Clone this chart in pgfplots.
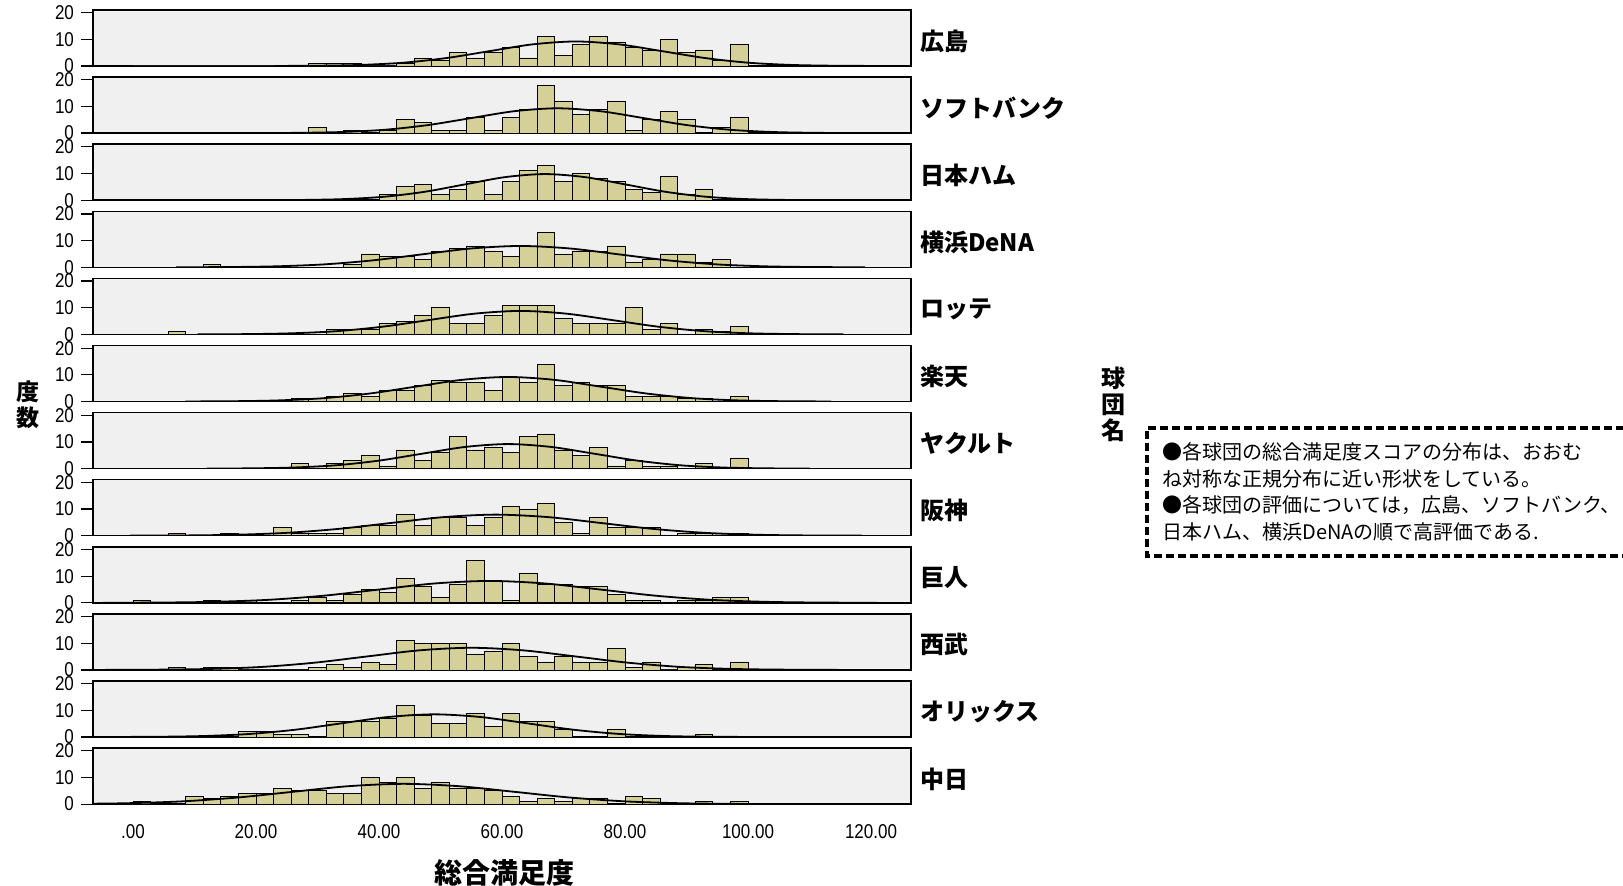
\documentclass[border=0pt]{standalone}
\usepackage{fontspec}
\setmainfont{Liberation Sans}
\newfontfamily\jp{Noto Sans CJK JP}
\newfontfamily\tickf[FakeStretch=0.85]{Liberation Sans}
\usepackage{pgfplots}
\pgfplotsset{compat=1.18}
\usepackage{pgfplotstable}
\definecolor{barc}{RGB}{213,207,152}
\definecolor{bgc}{RGB}{240,240,240}

% histogram counts, bins of width 100/35 starting at 0
\pgfplotstableread{
x t1 t2 t3 t4 t5 t6 t7 t8 t9 t10 t11 t12
0.000 0 0 0 0 0 0 0 0 1 0 0 1
2.857 0 0 0 0 0 0 0 0 0 0 0 0
5.714 0 0 0 0 1 0 0 1 0 1 0 0
8.571 0 0 0 0 0 0 0 0 0 0 0 3
11.429 0 0 0 1 0 0 0 0 1 1 0 2
14.286 0 0 0 0 0 0 0 1 0 1 0 3
17.143 0 0 0 0 0 0 0 0 1 0 2 4
20.000 0 0 0 0 0 0 0 0 0 0 2 4
22.857 0 0 0 0 0 0 0 3 0 0 1 6
25.714 0 0 0 0 0 1 2 1 1 0 1 5
28.571 1 2 0 0 0 1 0 1 2 1 0 5
31.429 1 0 0 0 2 2 2 1 1 2 6 4
34.286 1 1 0 1 2 3 3 3 3 1 6 4
37.143 0 0 0 5 2 2 5 4 5 3 6 10
40.000 0 1 2 4 4 4 1 4 4 2 7 8
42.857 1 5 5 4 5 4 7 8 9 11 12 10
45.714 3 4 6 3 7 6 3 4 6 10 8 6
48.571 2 1 2 6 10 8 6 7 2 10 5 8
51.429 5 1 4 7 4 7 12 7 7 10 5 6
54.286 3 6 7 8 4 7 7 4 16 6 9 6
57.143 5 1 2 6 7 4 8 7 8 7 4 5
60.000 7 6 7 4 11 9 6 11 1 10 9 3
62.857 3 9 11 8 11 7 12 10 11 5 6 1
65.714 11 18 13 13 11 14 13 12 7 3 6 2
68.571 4 12 7 5 6 6 7 5 7 5 3 1
71.429 8 7 10 6 4 7 5 1 6 3 0 2
74.286 11 9 8 6 4 6 8 7 6 3 0 2
77.143 9 12 7 8 4 6 1 3 3 8 3 0
80.000 7 1 4 2 10 2 3 3 1 1 0 3
82.857 6 5 3 3 2 2 1 3 1 3 0 2
85.714 10 8 9 5 4 2 1 0 0 0 0 0
88.571 5 5 2 5 0 1 0 1 1 1 0 0
91.429 6 0 4 2 2 1 2 1 1 2 1 1
94.286 2 2 0 3 1 0 0 1 2 0 0 0
97.143 8 6 0 0 3 2 4 1 2 3 0 1
100.000 0 0 0 0 0 0 0 0 0 0 0 0
}\hist

\pgfplotsset{
  panel/.style={
    scale only axis, width=409pt, height=28pt,
    xmin=-6.5, xmax=126.5, ymin=0, ymax=21,
    axis background/.style={fill=bgc},
    ytick={0,10,20}, yticklabels={0,10,20},
    ytick pos=left, xtick=\empty,
    tick align=outside, major tick length=6pt,
    tick style={black, line width=0.6pt},
    axis line style={black, line width=0.7pt},
    yticklabel style={font=\tickf\fontsize{10pt}{10pt}\selectfont},
    anchor=south west,
  },
  bars/.style={ybar interval, fill=barc, draw=black, line width=0.4pt},
  curve/.style={black, line width=0.9pt, smooth, no marks},
}
\tikzset{lab/.style={anchor=west, xshift=1pt, yshift=-1.5pt, font=\jp\bfseries\fontsize{12pt}{12pt}\selectfont}}

\begin{document}
\begin{tikzpicture}
\path[use as bounding box] (0,0) rectangle (811.5pt,442.5pt);

\begin{axis}[panel, at={(46.5pt,409.5pt)}, name=p1]
\addplot[bars] table[x=x,y=t1]{\hist};
\addplot[curve] coordinates {(23,0.02)(30,0.10)(37,0.40)(44,1.24)(51,2.99)(58,5.58)(65,8.12)(72,9.2)(79,8.12)(86,5.58)(93,2.99)(100,1.24)(107,0.40)(114,0.10)(121,0.02)};
\end{axis}
\node[lab] at (p1.east) {広島};

\begin{axis}[panel, at={(46.5pt,375.95pt)}, name=p2]
\addplot[bars] table[x=x,y=t2]{\hist};
\addplot[curve] coordinates {(20,0.02)(27,0.10)(34,0.41)(41,1.26)(48,3.02)(55,5.64)(62,8.21)(69,9.3)(76,8.21)(83,5.64)(90,3.02)(97,1.26)(104,0.41)(111,0.10)(118,0.02)};
\end{axis}
\node[lab] at (p2.east) {ソフトバンク};

\begin{axis}[panel, at={(46.5pt,342.4pt)}, name=p3]
\addplot[bars] table[x=x,y=t3]{\hist};
\addplot[curve] coordinates {(21.5,0.02)(28,0.11)(34.5,0.43)(41,1.33)(47.5,3.18)(54,5.94)(60.5,8.65)(67,9.8)(73.5,8.65)(80,5.94)(86.5,3.18)(93,1.33)(99.5,0.43)(106,0.11)(112.5,0.02)};
\end{axis}
\node[lab] at (p3.east) {日本ハム};

\begin{axis}[panel, at={(46.5pt,308.85pt)}, name=p4]
\addplot[bars] table[x=x,y=t4]{\hist};
\addplot[curve] coordinates {(7,0.02)(15,0.09)(23,0.35)(31,1.08)(39,2.60)(47,4.85)(55,7.06)(63,8.0)(71,7.06)(79,4.85)(87,2.60)(95,1.08)(103,0.35)(111,0.09)(119,0.02)};
\end{axis}
\node[lab] at (p4.east) {横浜DeNA};

\begin{axis}[panel, at={(46.5pt,275.3pt)}, name=p5]
\addplot[bars] table[x=x,y=t5]{\hist};
\addplot[curve] coordinates {(10.5,0.02)(18,0.10)(25.5,0.39)(33,1.19)(40.5,2.86)(48,5.34)(55.5,7.77)(63,8.8)(70.5,7.77)(78,5.34)(85.5,2.86)(93,1.19)(100.5,0.39)(108,0.10)(115.5,0.02)};
\end{axis}
\node[lab] at (p5.east) {ロッテ};

\begin{axis}[panel, at={(46.5pt,241.75pt)}, name=p6]
\addplot[bars] table[x=x,y=t6]{\hist};
\addplot[curve] coordinates {(8.5,0.02)(16,0.10)(23.5,0.40)(31,1.24)(38.5,2.99)(46,5.58)(53.5,8.12)(61,9.2)(68.5,8.12)(76,5.58)(83.5,2.99)(91,1.24)(98.5,0.40)(106,0.10)(113.5,0.02)};
\end{axis}
\node[lab] at (p6.east) {楽天};

\begin{axis}[panel, at={(46.5pt,208.2pt)}, name=p7]
\addplot[bars] table[x=x,y=t7]{\hist};
\addplot[curve] coordinates {(12,0.02)(19,0.10)(26,0.40)(33,1.24)(40,2.99)(47,5.58)(54,8.12)(61,9.2)(68,8.12)(75,5.58)(82,2.99)(89,1.24)(96,0.40)(103,0.10)(110,0.02)};
\end{axis}
\node[lab] at (p7.east) {ヤクルト};

\begin{axis}[panel, at={(46.5pt,174.65pt)}, name=p8]
\addplot[bars] table[x=x,y=t8]{\hist};
\addplot[curve] coordinates {(-0.5,0.02)(8,0.09)(16.5,0.35)(25,1.07)(33.5,2.57)(42,4.79)(50.5,6.97)(59,7.9)(67.5,6.97)(76,4.79)(84.5,2.57)(93,1.07)(101.5,0.35)(110,0.09)(118.5,0.02)};
\end{axis}
\node[lab] at (p8.east) {阪神};

\begin{axis}[panel, at={(46.5pt,141.1pt)}, name=p9]
\addplot[bars] table[x=x,y=t9]{\hist};
\addplot[curve] coordinates {(-5,0.02)(4,0.09)(13,0.36)(22,1.11)(31,2.66)(40,4.97)(49,7.24)(58,8.2)(67,7.24)(76,4.97)(85,2.66)(94,1.11)(103,0.36)(112,0.09)(121,0.02)};
\end{axis}
\node[lab] at (p9.east) {巨人};

\begin{axis}[panel, at={(46.5pt,107.55pt)}, name=p10]
\addplot[bars] table[x=x,y=t10]{\hist};
\addplot[curve] coordinates {(-4.5,0.02)(4,0.09)(12.5,0.36)(21,1.12)(29.5,2.70)(38,5.03)(46.5,7.32)(55,8.3)(63.5,7.32)(72,5.03)(80.5,2.70)(89,1.12)(97.5,0.36)(106,0.09)(114.5,0.02)};
\end{axis}
\node[lab] at (p10.east) {西武};

\begin{axis}[panel, at={(46.5pt,74pt)}, name=p11]
\addplot[bars] table[x=x,y=t11]{\hist};
\addplot[curve] coordinates {(-3.5,0.02)(4,0.09)(11.5,0.37)(19,1.15)(26.5,2.76)(34,5.16)(41.5,7.50)(49,8.5)(56.5,7.50)(64,5.16)(71.5,2.76)(79,1.15)(86.5,0.37)(94,0.09)(101.5,0.02)};
\end{axis}
\node[lab] at (p11.east) {オリックス};

\begin{axis}[panel, at={(46.5pt,40.45pt)}, name=p12,
  xtick={0,20,40,60,80,100,120},
  xticklabels={.00,20.00,40.00,60.00,80.00,100.00,120.00},
  xtick pos=bottom, xtick style={draw=none},
  xticklabel style={font=\tickf\fontsize{10pt}{10pt}\selectfont, yshift=-0.5pt}]
\addplot[bars] table[x=x,y=t12]{\hist};
\addplot[curve] coordinates {(-10,0.08)(-1,0.33)(8,1.03)(17,2.47)(26,4.61)(35,6.71)(44,7.6)(53,6.71)(62,4.61)(71,2.47)(80,1.03)(89,0.33)(98,0.08)(107,0.02)};
\end{axis}
\node[lab] at (p12.east) {中日};

% axis titles
\node[font=\jp\bfseries\fontsize{14pt}{14pt}\selectfont] at (252pt,6pt) {総合満足度};
\node[font=\jp\bfseries\fontsize{11.5pt}{13pt}\selectfont, align=center] at (14pt,240pt) {度\\数};
\node[font=\jp\bfseries\fontsize{12pt}{13pt}\selectfont, align=center] at (556.5pt,240.5pt) {球\\団\\名};

% note box
\draw[black, line width=1.6pt, dash pattern=on 4pt off 2pt] (830pt,228.5pt) -- (573.5pt,228.5pt) -- (573.5pt,164.5pt) -- (830pt,164.5pt);
\begin{scope}[every node/.style={anchor=west, inner sep=0pt, font=\jp\fontsize{10pt}{12pt}\selectfont}]
\node at (581pt,216.5pt) {●各球団の総合満足度スコアの分布は、おおむ};
\node at (581pt,203.25pt) {ね対称な正規分布に近い形状をしている。};
\node at (581pt,190pt) {●各球団の評価については，広島、ソフトバンク、};
\node at (581pt,176.75pt) {日本ハム、横浜DeNAの順で高評価である.};
\end{scope}
\end{tikzpicture}
\end{document}
